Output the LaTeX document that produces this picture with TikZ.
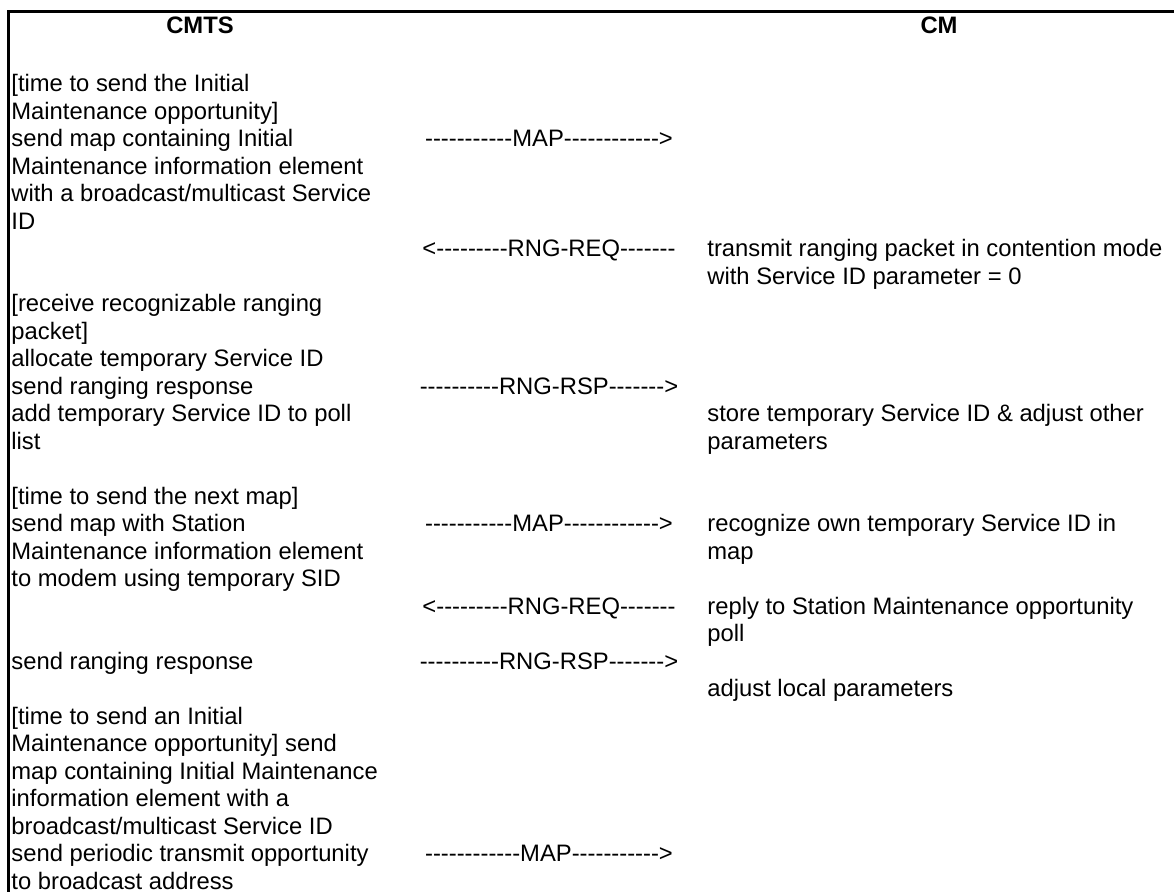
\documentclass[tikz,border=0pt]{standalone}
\usepackage{fontspec}
\setmainfont{Liberation Sans}[Ligatures=TeXOff]
\begin{document}
\begin{tikzpicture}[x=0.5pt,y=-0.5pt,
  txt/.style={inner sep=0pt,anchor=base west,font=\fontsize{11.9}{13.75}\selectfont},
  msg/.style={inner sep=0pt,anchor=base,font=\fontsize{11.9}{13.75}\selectfont},
  hdr/.style={inner sep=0pt,anchor=base,font=\fontsize{11.9}{13.75}\selectfont\bfseries},
  frame/.style={line width=1.25pt,line cap=rect}]
\useasboundingbox (0,0) rectangle (1174,892);
\coordinate (fBL) at (8.5,892);
\coordinate (fTL) at (8.5,11.3);
\coordinate (fTR) at (1174,11.3);
\draw[frame] (fBL) -- (fTL) -- (fTR);
% headers
\node[hdr] (hCMTS) at (200,33.5) {CMTS};
\node[hdr] (hCM) at (939,33.5) {CM};
% left column
\node[txt] (l0) at (11,92) {[time to send the Initial};
\node[txt] (l1) at (11,119.5) {Maintenance opportunity]};
\node[txt] (l2) at (11,147) {send map containing Initial};
\node[txt] (l3) at (11,174.5) {Maintenance information element};
\node[txt] (l4) at (11,202) {with a broadcast/multicast Service};
\node[txt] (l5) at (11,229.5) {ID};
\node[txt] (l8) at (11,312) {[receive recognizable ranging};
\node[txt] (l9) at (11,339.5) {packet]};
\node[txt] (l10) at (11,367) {allocate temporary Service ID};
\node[txt] (l11) at (11,394.5) {send ranging response};
\node[txt] (l12) at (11,422) {add temporary Service ID to poll};
\node[txt] (l13) at (11,449.5) {list};
\node[txt] (l15) at (11,504.5) {[time to send the next map]};
\node[txt] (l16) at (11,532) {send map with Station};
\node[txt] (l17) at (11,559.5) {Maintenance information element};
\node[txt] (l18) at (11,587) {to modem using temporary SID};
\node[txt] (l21) at (11,669.5) {send ranging response};
\node[txt] (l23) at (11,724.5) {[time to send an Initial};
\node[txt] (l24) at (11,752) {Maintenance opportunity] send};
\node[txt] (l25) at (11,779.5) {map containing Initial Maintenance};
\node[txt] (l26) at (11,807) {information element with a};
\node[txt] (l27) at (11,834.5) {broadcast/multicast Service ID};
\node[txt] (l28) at (11,862) {send periodic transmit opportunity};
\node[txt] (l29) at (11,889.5) {to broadcast address};
% messages
\node[msg] (m1) at (549,147) {-----------MAP------------>};
\node[msg] (m2) at (549,257) {<---------RNG-REQ-------};
\node[msg] (m3) at (549,394.5) {----------RNG-RSP------->};
\node[msg] (m4) at (549,532) {-----------MAP------------>};
\node[msg] (m5) at (549,614.5) {<---------RNG-REQ-------};
\node[msg] (m6) at (549,669.5) {----------RNG-RSP------->};
\node[msg] (m7) at (549,862) {------------MAP----------->};
% right column
\node[txt] (r6) at (707,257) {transmit ranging packet in contention mode};
\node[txt] (r7) at (707,284.5) {with Service ID parameter = 0};
\node[txt] (r12) at (707,422) {store temporary Service ID \& adjust other};
\node[txt] (r13) at (707,449.5) {parameters};
\node[txt] (r16) at (707,532) {recognize own temporary Service ID in};
\node[txt] (r17) at (707,559.5) {map};
\node[txt] (r19) at (707,614.5) {reply to Station Maintenance opportunity};
\node[txt] (r20) at (707,642) {poll};
\node[txt] (r22) at (707,697) {adjust local parameters};
\end{tikzpicture}
\end{document}
